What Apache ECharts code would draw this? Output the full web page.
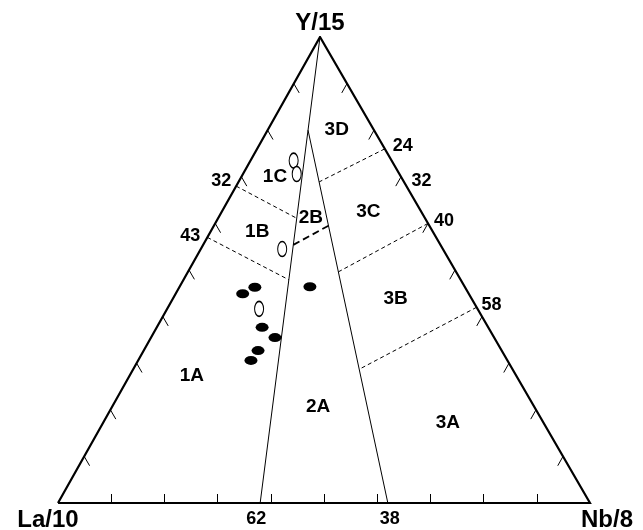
<!DOCTYPE html>
<html>
<head>
<meta charset="utf-8">
<script src="https://cdn.jsdelivr.net/npm/echarts@6/dist/echarts.min.js"></script>
<style>
  html, body { margin: 0; padding: 0; background: #ffffff; }
  #chart { width: 643px; height: 530px; }
</style>
</head>
<body>
<div id="chart"></div>
<script>
// La/10 – Y/15 – Nb/8 discrimination diagram.
// Every composition below is [La/10, Y/15, Nb/8] in percent.

// Samples
const filledSamples = [
  [39.5, 46.3, 14.2], [42.5, 44.9, 12.6], [42.5, 37.7, 19.8],
  [41.2, 35.5, 23.3], [45.8, 32.7, 21.5], [48.2, 30.6, 21.2],
  [29.1, 46.4, 24.5]
];
const openSamples = [
  [18.4, 73.4, 8.1], [19.3, 70.6, 10.1], [30.2, 54.5, 15.3], [41.1, 41.7, 17.3]
];

// Main boundaries: La/10 % where they reach the base
const baseLa = [62, 38];
// Y/15 % at which the second boundary joins the first
const junctionY = 80;

// Dashed boundaries from the La–Y edge (La %) to boundary 1 (Y % of inner end)
const leftEdgeLa = [32, 43];
const leftInnerY = [61.1, 47.9];

// Dashed boundaries from the Y–Nb edge (Nb %) to boundary 2 (Y % of inner end)
const rightEdgeNb = [24, 40, 58];
const rightInnerY = [68.9, 49.6, 28.7];
// Extra value marked on the Y–Nb edge
const rightEdgeMarks = [32];

// 2B closing segment: Y % on boundary 1 and on boundary 2
const field2BY = [55.4, 59.5];

// Tick values along each edge (percent)
const tickValues = [10, 20, 30, 40, 50, 60, 70, 80, 90];

// Field names and their centres
const fieldNames = ['1A', '1B', '1C', '2A', '2B', '3A', '3B', '3C', '3D'];
const fieldCentres = [
  [61.0, 27.3, 11.7], [33.0, 58.1, 8.8], [23.7, 70.1, 6.3],
  [40.6, 20.7, 38.7], [21.4, 61.3, 17.4], [18.0, 17.2, 64.8],
  [14.3, 43.8, 41.9], [9.9, 62.6, 27.5], [6.9, 80.2, 12.9]
];

// Corner titles
const cornerNames = ['La/10', 'Y/15', 'Nb/8'];

// ---------------------------------------------------------------
const APEX_X = 0.4925; // horizontal position of the Y apex across the base
function toXY(c) {
  const s = c[0] + c[1] + c[2];
  const y = c[1] / s, nb = c[2] / s;
  return [nb + y * APEX_X, y];
}
const cornerLa = [100, 0, 0], cornerY = [0, 100, 0], cornerNb = [0, 0, 100];

// boundary 1: from the base (La = baseLa[0]) to the Y apex
function onBoundary1(yPct) {
  const f = (100 - yPct) / 100;
  return [baseLa[0] * f, yPct, (100 - baseLa[0]) * f];
}
const junction = onBoundary1(junctionY);
// boundary 2: from the base (La = baseLa[1]) to the junction
function onBoundary2(yPct) {
  const t = yPct / junctionY;
  const b = [baseLa[1], 0, 100 - baseLa[1]];
  return [b[0] + t * (junction[0] - b[0]), yPct, b[2] + t * (junction[2] - b[2])];
}

const seg = (a, b) => ({ coords: [toXY(a), toXY(b)] });

const mainLines = [
  seg([baseLa[0], 0, 100 - baseLa[0]], cornerY),
  seg([baseLa[1], 0, 100 - baseLa[1]], junction)
];
const dashLines = [];
leftEdgeLa.forEach((la, i) => dashLines.push(seg([la, 100 - la, 0], onBoundary1(leftInnerY[i]))));
rightEdgeNb.forEach((nb, i) => dashLines.push(seg([0, 100 - nb, nb], onBoundary2(rightInnerY[i]))));
const dash2B = [seg(onBoundary1(field2BY[0]), onBoundary2(field2BY[1]))];

// Tick marks: left edge ticks run parallel to the right edge, right edge ticks
// parallel to the left edge, base ticks point straight up.
const tickLen = 2.0;
const baseTickY = 1.93;
const tickLines = [];
tickValues.forEach(v => {
  tickLines.push(seg([100 - v, v, 0], [100 - v, v - tickLen, tickLen]));
  tickLines.push(seg([0, v, 100 - v], [tickLen, v - tickLen, 100 - v]));
  const la = 100 - v, nb = v;
  const dNb = baseTickY * APEX_X;
  tickLines.push(seg([la, 0, nb], [la - (baseTickY - dNb), baseTickY, nb - dNb]));
});

// Text labels
const FONT = 'Liberation Sans, Arial, sans-serif';
const textItems = [];
fieldNames.forEach((n, i) => textItems.push({
  value: toXY(fieldCentres[i]), name: n,
  label: { fontSize: 19 }
}));
leftEdgeLa.forEach((la, i) => textItems.push({
  value: toXY([la, 100 - la, 0]), name: String(la),
  label: { fontSize: 18, offset: i === 0 ? [-15, -5] : [-17, -1] }
}));
rightEdgeNb.concat(rightEdgeMarks).forEach(nb => {
  const off = { 24: [18, -3], 32: [15, -5], 40: [16, -2], 58: [15, -2] }[nb];
  textItems.push({ value: toXY([0, 100 - nb, nb]), name: String(nb), label: { fontSize: 18, offset: off } });
});
baseLa.forEach((la, i) => textItems.push({
  value: toXY([la, 0, 100 - la]), name: String(la),
  label: { fontSize: 18, offset: i === 0 ? [-4, 16] : [2, 16] }
}));
textItems.push({ value: toXY(cornerLa), name: cornerNames[0], label: { fontSize: 24, offset: [-10, 17] } });
textItems.push({ value: toXY(cornerY), name: cornerNames[1], label: { fontSize: 24, offset: [0, -14] } });
textItems.push({ value: toXY(cornerNb), name: cornerNames[2], label: { fontSize: 24, offset: [17, 17] } });

const ELLIPSE = 'path://M0,10 A20,10 0 1,0 40,10 A20,10 0 1,0 0,10 Z';

const chart = echarts.init(document.getElementById('chart'), null, { renderer: 'canvas' });
chart.setOption({
  animation: false,
  backgroundColor: '#ffffff',
  grid: { left: 58, right: 53, top: 37, bottom: 27 },
  xAxis: { type: 'value', min: 0, max: 1, show: false },
  yAxis: { type: 'value', min: 0, max: 1, show: false },
  series: [
    {
      type: 'line', silent: true, symbol: 'none',
      data: [cornerLa, cornerNb, cornerY, cornerLa].map(toXY),
      lineStyle: { color: '#000', width: 2.2, join: 'miter' }
    },
    {
      type: 'lines', coordinateSystem: 'cartesian2d', silent: true,
      data: mainLines, lineStyle: { color: '#000', width: 1, opacity: 1 }
    },
    {
      type: 'lines', coordinateSystem: 'cartesian2d', silent: true,
      data: dashLines, lineStyle: { color: '#000', width: 1, type: [4, 3], opacity: 1 }
    },
    {
      type: 'lines', coordinateSystem: 'cartesian2d', silent: true,
      data: dash2B, lineStyle: { color: '#000', width: 1.8, type: [7, 4], opacity: 1 }
    },
    {
      type: 'lines', coordinateSystem: 'cartesian2d', silent: true,
      data: tickLines, lineStyle: { color: '#000', width: 1, opacity: 1 }
    },
    {
      type: 'scatter', silent: true, symbol: ELLIPSE, symbolSize: [13, 9],
      data: filledSamples.map(toXY),
      itemStyle: { color: '#000', opacity: 1 }
    },
    {
      type: 'scatter', silent: true, symbol: ELLIPSE, symbolSize: [9, 15],
      data: openSamples.map(toXY),
      itemStyle: { color: '#fff', borderColor: '#000', borderWidth: 1.3, opacity: 1 }
    },
    {
      type: 'scatter', silent: true, symbolSize: 0,
      data: textItems,
      itemStyle: { opacity: 1 },
      label: {
        show: true, position: 'inside', formatter: '{b}',
        color: '#000', fontFamily: FONT, fontWeight: 'bold'
      }
    }
  ]
});
</script>
</body>
</html>
